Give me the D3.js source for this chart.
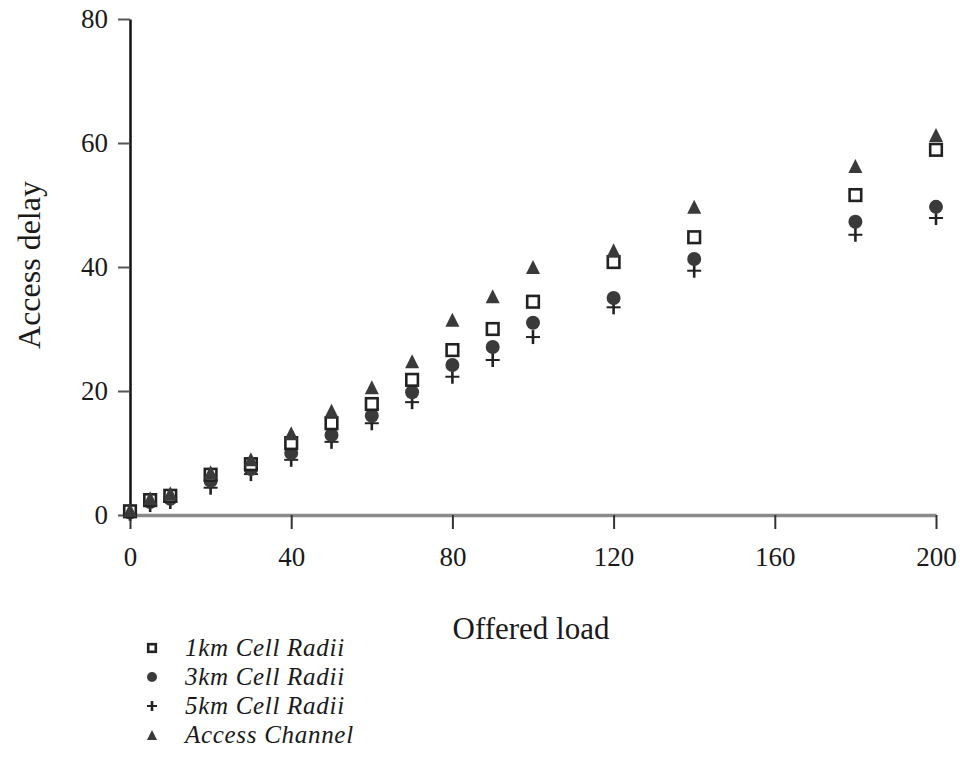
<!DOCTYPE html>
<html>
<head>
<meta charset="utf-8">
<script src="https://cdn.jsdelivr.net/npm/d3@7"></script>
<style>
  body { margin: 0; background: #fff; }
  svg { display: block; }
  text { font-family: "Liberation Serif", "DejaVu Serif", serif; fill: #1a1a1a; }
</style>
</head>
<body>
<svg id="chart" width="960" height="757"></svg>
<script>
"use strict";

// offered load values (x)
const loads = [0, 5, 10, 20, 30, 40, 50, 60, 70, 80, 90, 100, 120, 140, 180, 200];

// access delay per series
const cell1km   = [0.6, 2.4, 3.1, 6.5, 8.2, 11.6, 14.8, 17.9, 21.8, 26.6, 30.0, 34.4, 40.8, 44.8, 51.6, 58.9];
const cell3km   = [0.4, 2.1, 2.6, 5.5, 7.4, 10.0, 12.9, 16.0, 19.8, 24.2, 27.1, 31.0, 35.0, 41.3, 47.3, 49.7];
const cell5km   = [0.2, 1.6, 2.1, 4.4, 6.6, 8.9, 11.8, 14.8, 18.2, 22.3, 25.0, 28.7, 33.5, 39.4, 45.2, 47.9];
const accessCh  = [0.8, 2.7, 3.5, 6.9, 9.0, 13.2, 16.8, 20.6, 24.8, 31.5, 35.3, 40.0, 42.7, 49.7, 56.3, 61.3];

const xTicks = [0, 40, 80, 120, 160, 200];
const yTicks = [0, 20, 40, 60, 80];

const seriesNames = ["1km Cell Radii", "3km Cell Radii", "5km Cell Radii", "Access Channel"];
const seriesValues = [cell1km, cell3km, cell5km, accessCh];
const seriesShapes = ["square", "circle", "plus", "triangle"];

const svg = d3.select("#chart");

const xScale = d3.scaleLinear().domain([0, 200]).range([130, 936]);
const yScale = d3.scaleLinear().domain([0, 80]).range([515, 19]);

// y axis (black, ticks to the left)
const yAxis = svg.append("g")
    .attr("transform", "translate(" + xScale(0) + ",0)")
    .call(d3.axisLeft(yScale).tickValues(yTicks).tickSize(12).tickSizeOuter(0).tickPadding(10));
yAxis.select(".domain").attr("stroke", "#111").attr("stroke-width", 2.5);
yAxis.selectAll(".tick line").attr("stroke", "#555").attr("stroke-width", 2);
yAxis.selectAll(".tick text").style("font-size", "27px").attr("fill", "#1a1a1a");

// x axis (grey scanned line, ticks downward)
const xAxis = svg.append("g")
    .attr("transform", "translate(0," + yScale(0) + ")")
    .call(d3.axisBottom(xScale).tickValues(xTicks).tickSize(14).tickSizeOuter(0).tickPadding(18));
xAxis.select(".domain").attr("stroke", "#8a8a8a").attr("stroke-width", 3.5);
xAxis.selectAll(".tick line").attr("stroke", "#333").attr("stroke-width", 2);
xAxis.selectAll(".tick text").style("font-size", "27px").attr("fill", "#1a1a1a");

// axis titles
svg.append("text")
    .attr("x", 531)
    .attr("y", 639)
    .attr("text-anchor", "middle")
    .style("font-size", "31px")
    .text("Offered load");

svg.append("text")
    .attr("transform", "translate(40,265) rotate(-90)")
    .attr("text-anchor", "middle")
    .style("font-size", "32px")
    .text("Access delay");

// marker drawing
function drawMarker(g, shape, size) {
    const s = size;
    if (shape === "square") {
        g.append("rect")
            .attr("x", -s / 2 + 1.2).attr("y", -s / 2 + 1.2)
            .attr("width", s - 2.4).attr("height", s - 2.4)
            .attr("fill", "#fff")
            .attr("stroke", "#222")
            .attr("stroke-width", 2.6);
    } else if (shape === "circle") {
        g.append("path")
            .attr("d", d3.symbol(d3.symbolCircle, Math.PI * (s / 2) * (s / 2))())
            .attr("fill", "#3a3a3a");
    } else if (shape === "plus") {
        g.append("line").attr("x1", 0).attr("x2", 0).attr("y1", -s / 2).attr("y2", s / 2)
            .attr("stroke", "#222").attr("stroke-width", 2.6);
        g.append("line").attr("x1", -s / 2).attr("x2", s / 2).attr("y1", 0).attr("y2", 0)
            .attr("stroke", "#222").attr("stroke-width", 2);
    } else if (shape === "triangle") {
        g.append("path")
            .attr("d", "M0," + (-s / 2) + "L" + (s / 2) + "," + (s / 2) + "L" + (-s / 2) + "," + (s / 2) + "Z")
            .attr("fill", "#3a3a3a");
    }
}

// points, drawn 5km first so triangles/squares sit on top like the scan
const drawOrder = [2, 1, 0, 3];
drawOrder.forEach(function(si) {
    const pts = loads.map(function(x, i) { return { x: x, y: seriesValues[si][i] }; });
    const grp = svg.append("g").attr("class", "series-" + si);
    grp.selectAll("g.pt")
        .data(pts)
        .enter().append("g")
        .attr("class", "pt")
        .attr("transform", function(d) { return "translate(" + xScale(d.x) + "," + yScale(d.y) + ")"; })
        .each(function() { drawMarker(d3.select(this), seriesShapes[si], 14); });
});

// legend
const legendY = d3.scalePoint().domain(seriesNames).range([648, 735]);
const legend = svg.append("g");
seriesNames.forEach(function(name, i) {
    const row = legend.append("g").attr("transform", "translate(152," + legendY(name) + ")");
    drawMarker(row, seriesShapes[i], 10);
    row.append("text")
        .attr("x", 33)
        .attr("y", 8)
        .style("font-family", "'Liberation Serif', serif")
        .style("font-size", "25px")
        .style("font-style", "italic")
        .style("letter-spacing", "0.7px")
        .text(name);
});
</script>
</body>
</html>
